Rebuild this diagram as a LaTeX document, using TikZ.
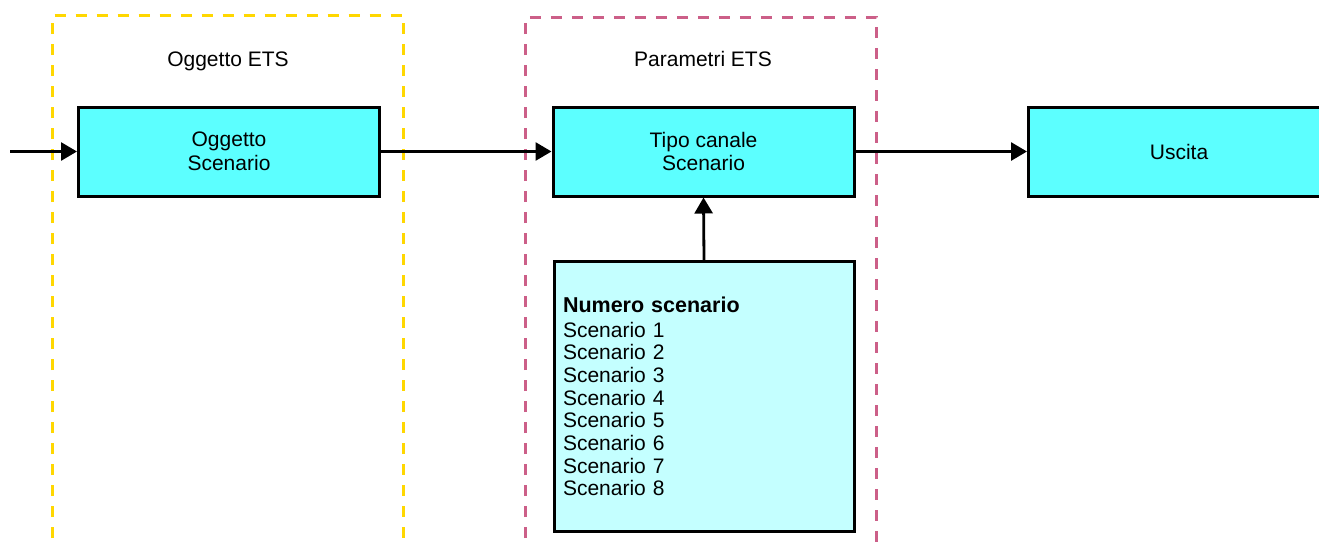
\documentclass[tikz,border=0pt]{standalone}
\usepackage{fontspec}
\setmainfont{Liberation Sans}
\usetikzlibrary{arrows.meta}
\definecolor{cyanbox}{HTML}{5CFFFF}
\definecolor{lightbox}{HTML}{C4FFFF}
\definecolor{ygold}{HTML}{FFD700}
\definecolor{pinkd}{HTML}{CC5F88}
\tikzset{
  box/.style={draw=black, line width=3pt, fill=cyanbox, minimum width=301pt, minimum height=89pt, inner sep=0pt, align=center, font=\fontsize{21pt}{23.5pt}\selectfont},
  parbox/.style={draw=black, line width=3pt, fill=lightbox, minimum width=300pt, minimum height=270pt, inner xsep=9pt, inner ysep=0pt, text width=282pt, align=left, font=\fontsize{21pt}{22.7pt}\selectfont},
  group/.style={line width=3pt, dash pattern=on 11pt off 10pt},
  title/.style={font=\fontsize{21pt}{24pt}\selectfont, inner sep=0pt, anchor=base},
  conn/.style={line width=2.8pt, -{Triangle[length=16pt,width=18pt]}, shorten >=0pt}
}
\begin{document}
\begin{tikzpicture}[x=1pt,y=-1pt]
\useasboundingbox (0,0) rectangle (1319,544);
\draw[group, draw=ygold] (52.5,580) -- (52.5,15) -- (403.5,15) -- (403.5,580);
\draw[group, draw=pinkd] (525.8,580) -- (525.8,17) -- (876.8,17) -- (876.8,580);
\node[title] (t1) at (228,66) {Oggetto ETS};
\node[title] (t2) at (703,66) {Parametri ETS};
\node[box] (obj) at (229,151.5) {Oggetto\\Scenario};
\node[box] (tipo) at (703.5,151.5) {Tipo canale\\Scenario};
\node[box] (usc) at (1179,151.5) {Uscita};
\node[parbox] (num) at (704,396.5) {{\bfseries\fontsize{21.5pt}{24pt}\selectfont Numero scenario}\\[2pt]Scenario 1\\Scenario 2\\Scenario 3\\Scenario 4\\Scenario 5\\Scenario 6\\Scenario 7\\Scenario 8\\[13pt]};
\coordinate (in) at (10,151.5);
\draw[conn] (in) -- (obj.west);
\draw[conn] (obj.east) -- (tipo.west);
\draw[conn] (tipo.east) -- (usc.west);
\draw[conn] (num.north) -- (tipo.south);
\end{tikzpicture}
\end{document}
